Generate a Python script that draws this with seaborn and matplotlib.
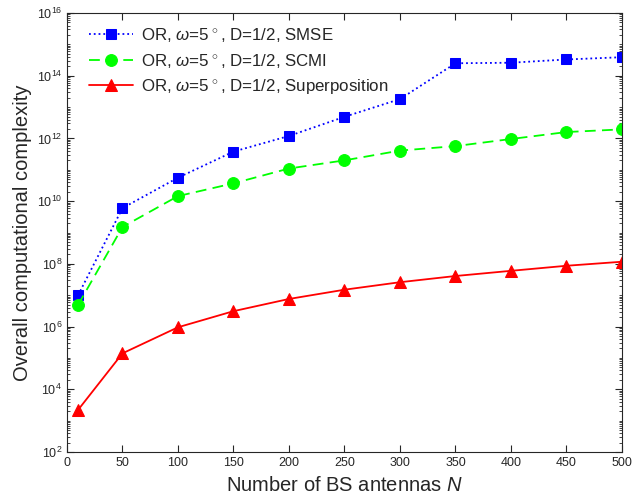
import matplotlib
matplotlib.use("Agg")
import matplotlib.pyplot as plt
import matplotlib.ticker as mticker
import numpy as np
import pandas as pd
import seaborn as sns

# number of BS antennas
antennas = [10, 50, 100, 150, 200, 250, 300, 350, 400, 450, 500]

# overall computational complexity
smse = [1.0e7, 6.0e9, 5.6e10, 3.8e11, 1.2e12, 4.9e12, 1.8e13, 2.5e14, 2.6e14, 3.3e14, 3.9e14]
scmi = [4.9e6, 1.5e9, 1.45e10, 3.7e10, 1.1e11, 2.0e11, 4.1e11, 5.7e11, 9.6e11, 1.6e12, 1.95e12]
superpos = [2.2e3, 1.4e5, 9.5e5, 3.1e6, 7.6e6, 1.5e7, 2.6e7, 4.1e7, 6.0e7, 8.7e7, 1.17e8]

labels = [r"OR, $\omega$=5$^{\,\circ}$, D=1/2, SMSE",
          r"OR, $\omega$=5$^{\,\circ}$, D=1/2, SCMI",
          r"OR, $\omega$=5$^{\,\circ}$, D=1/2, Superposition"]

sns.set_style("ticks")
plt.rcParams["font.family"] = ["Liberation Sans", "DejaVu Sans"]
plt.rcParams["mathtext.fontset"] = "custom"
plt.rcParams["mathtext.rm"] = "Liberation Sans"
plt.rcParams["mathtext.it"] = "Liberation Sans:italic"

fig = plt.figure(figsize=(6.33, 5.01), dpi=100)
ax = fig.add_axes([0.1058, 0.0978, 0.8768, 0.8762])

styles = [
    (smse, labels[0], "#0000ff", ":", "s", 7.5),
    (scmi, labels[1], "#00ff00", (0, (6, 3.5)), "o", 8.5),
    (superpos, labels[2], "#ff0000", "-", "^", 9),
]

for vals, lab, col, ls, mk, ms in styles:
    df = pd.DataFrame({"N": antennas, "C": vals})
    sns.lineplot(data=df, x="N", y="C", ax=ax, color=col, linestyle=ls,
                 marker=mk, markersize=ms, markeredgecolor=col,
                 linewidth=1.3, label=lab)

ax.set_yscale("log")
ax.set_xlim(0, 500)
ax.set_ylim(1e2, 1e16)
ax.set_xticks(np.arange(0, 501, 50))
ax.set_yticks([10.0 ** k for k in range(2, 17, 2)])
ax.yaxis.set_major_formatter(mticker.LogFormatterSciNotation())
ax.yaxis.set_minor_locator(mticker.LogLocator(base=10, subs=np.arange(1, 10), numticks=100))
ax.yaxis.set_minor_formatter(mticker.NullFormatter())

gray = "#262626"
for s in ax.spines.values():
    s.set_visible(True)
    s.set_color(gray)
    s.set_linewidth(0.8)
ax.tick_params(which="both", direction="in", top=True, right=True, colors=gray,
               labelsize=9, labelcolor=gray)
ax.tick_params(which="major", length=5)
ax.tick_params(which="minor", length=2.5)

ax.set_xlabel("Number of BS antennas $N$", fontsize=14.5, color=gray, labelpad=5)
ax.set_ylabel("Overall computational complexity", fontsize=14.5, color=gray, labelpad=3)

leg = ax.legend(loc="upper left", frameon=False, fontsize=12.2,
                handlelength=2.6, handletextpad=0.5, borderaxespad=0.0,
                labelspacing=0.45, bbox_to_anchor=(0.027, 0.986))

fig.savefig("out.png", dpi=100)
